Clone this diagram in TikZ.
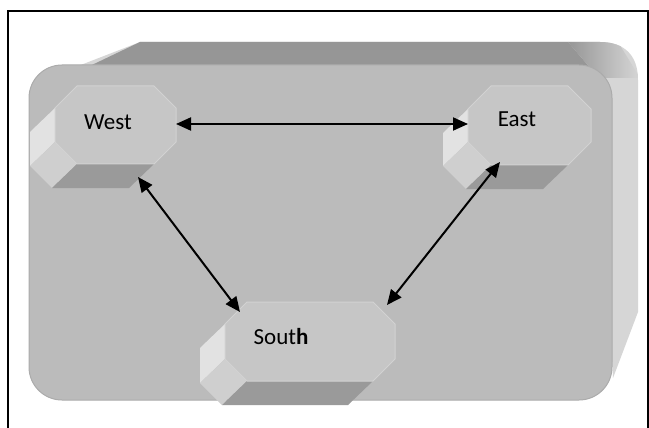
\documentclass[tikz,border=0pt]{standalone}
\usepackage{fontspec}
\setmainfont{Carlito}
\usetikzlibrary{arrows.meta,calc}
\definecolor{topgray}{HTML}{969696}
\definecolor{sidegray}{HTML}{D6D6D6}
\definecolor{boxgray}{HTML}{BBBBBB}
\definecolor{boxedge}{HTML}{ABABAB}
\definecolor{octfront}{HTML}{C6C6C6}
\definecolor{octleft}{HTML}{E2E2E2}
\definecolor{octchamf}{HTML}{CFCFCF}
\definecolor{octbottom}{HTML}{9A9A9A}
\definecolor{octedge}{HTML}{D2D2D2}
\tikzset{
  facebox/.style={rectangle, inner sep=0pt, outer sep=0pt},
  lbl/.style={font=\fontsize{23}{28}\selectfont, inner sep=0pt, anchor=base, text=black},
  biarrow/.style={{Triangle[length=15pt,width=13pt]}-{Triangle[length=15pt,width=13pt]}, line width=2pt, black},
}
\newcommand\octblock[2]{%
  \path ([yshift=-#2]#1.north west) coordinate (#1-A)
        ([xshift=#2]#1.north west)  coordinate (#1-B)
        ([xshift=-#2]#1.north east) coordinate (#1-C)
        ([yshift=-#2]#1.north east) coordinate (#1-D)
        ([yshift=#2]#1.south east)  coordinate (#1-E)
        ([xshift=-#2]#1.south east) coordinate (#1-F)
        ([xshift=#2]#1.south west)  coordinate (#1-G)
        ([yshift=#2]#1.south west)  coordinate (#1-H);
  \fill[octleft] (#1-A) -- (#1-H) -- ([shift={(-25pt,-24pt)}]#1-H) -- ([shift={(-25pt,-24pt)}]#1-A) -- cycle;
  \fill[octchamf] (#1-H) -- (#1-G) -- ([shift={(-25pt,-24pt)}]#1-G) -- ([shift={(-25pt,-24pt)}]#1-H) -- cycle;
  \fill[octbottom] (#1-G) -- (#1-F) -- ([shift={(-25pt,-24pt)}]#1-F) -- ([shift={(-25pt,-24pt)}]#1-G) -- cycle;
  \filldraw[fill=octfront, draw=octedge, line width=1pt]
    (#1-A) -- (#1-B) -- (#1-C) -- (#1-D) -- (#1-E) -- (#1-F) -- (#1-G) -- (#1-H) -- cycle;
}
\begin{document}
\begin{tikzpicture}[x=1pt, y=-1pt]
\useasboundingbox (0,0) rectangle (649,428);
\fill[white] (0,0) rectangle (649,428);
% page frame
\draw[line width=2pt, black] (8,428) -- (8,11) -- (648,11) -- (648,428);
% big box: side and top faces
\fill[sidegray] (55,75) -- (140,42) -- (600,42) .. controls (625,42) and (638,56) .. (638,80)
  -- (638,312) -- (613,378) -- (600,100) -- cycle;
\begin{scope}
  \clip (55,75) -- (140,42) -- (600,42) .. controls (625,42) and (638,56) .. (638,80)
    -- (638,312) -- (613,378) -- (600,100) -- cycle;
  \fill[topgray] (50,85) -- (140,42) -- (568,42) -- (592,70) -- (592,85) -- cycle;
  \shade[left color=topgray, right color=sidegray] (568,42) -- (618,42) -- (640,78) -- (605,78) -- (592,70) -- cycle;
\end{scope}
% big box: front face
\filldraw[fill=boxgray, draw=boxedge, line width=1pt, rounded corners=33pt] (29,65) rectangle (612,400);
% blocks
\node[facebox, minimum width=121pt, minimum height=78pt] (west) at (115.5,125) {};
\node[facebox, minimum width=123pt, minimum height=79pt] (east) at (529.5,125.5) {};
\node[facebox, minimum width=170pt, minimum height=79pt] (south) at (310,341.5) {};
\octblock{west}{22pt}
\octblock{east}{23pt}
\octblock{south}{22pt}
\node[lbl] (westtext) at (108,130) {West};
\node[lbl] (easttext) at (517,127) {East};
\node[lbl] (southtext) at (281,344) {Sout\textbf{h}};
% connectors
\draw[biarrow] ([yshift=1pt]west.east) -- ([yshift=1pt]west.east -| east.west);
\draw[biarrow] ([shift={(22.5,13)}]west.south) -- ([shift={(15,10)}]south.north west);
\draw[biarrow] ([shift={(-29.5,-3)}]east.south) -- ([shift={(-8,3)}]south.north east);
\end{tikzpicture}
\end{document}
